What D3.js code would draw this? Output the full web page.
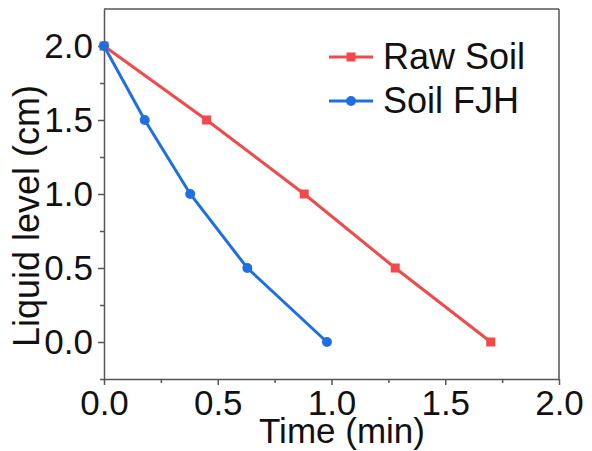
<!DOCTYPE html>
<html>
<head>
<meta charset="utf-8">
<script src="https://cdn.jsdelivr.net/npm/d3@7"></script>
<style>
  html, body { margin: 0; padding: 0; background: #fff; }
  svg { display: block; font-family: "Liberation Sans", Arial, sans-serif; }
</style>
</head>
<body>
<svg id="chart" width="592" height="451"></svg>
<script>
// ---- data ----
const seriesNames = ["Raw Soil", "Soil FJH"];
const rawSoilTime = [0, 0.451, 0.880, 1.280, 1.700];
const rawSoilLevel = [2.0, 1.5, 1.0, 0.5, 0.0];
const fjhTime = [0, 0.179, 0.379, 0.630, 0.980];
const fjhLevel = [2.0, 1.5, 1.0, 0.5, 0.0];
const xTicks = [0, 0.5, 1.0, 1.5, 2.0];
const yTicks = [0, 0.5, 1.0, 1.5, 2.0];
const xMinor = [0.25, 0.75, 1.25, 1.75];
const yMinor = [-0.25, 0.25, 0.75, 1.25, 1.75];
const xTitle = "Time (min)";
const yTitle = "Liquid level (cm)";
const colors = ["#f24a4a", "#1f6fe3"];

// ---- layout ----
const L = 104, R = 559, T = 9, B = 379;
const svg = d3.select("#chart");
const x = d3.scaleLinear().domain([0, 2.0]).range([L, R]);
const y = d3.scaleLinear().domain([-0.25, 2.25]).range([B, T]);
const axisColor = "#555";
const fs = 35;

// frame (top & right)
svg.append("line").attr("x1", L).attr("x2", R).attr("y1", T).attr("y2", T)
  .attr("stroke", axisColor).attr("stroke-width", 1.5);
svg.append("line").attr("x1", R).attr("x2", R).attr("y1", T).attr("y2", B)
  .attr("stroke", axisColor).attr("stroke-width", 1.5);

// x axis
const xAxis = d3.axisBottom(x).tickValues(xTicks).tickFormat(d3.format(".1f"))
  .tickSizeInner(6).tickSizeOuter(0).tickPadding(5);
const gx = svg.append("g").attr("transform", `translate(0,${B})`).call(xAxis);
gx.selectAll(".tick text").attr("font-size", fs).attr("fill", "#111")
  .attr("font-family", "'Liberation Sans', Arial, sans-serif");
const gxm = svg.append("g").attr("transform", `translate(0,${B})`)
  .call(d3.axisBottom(x).tickValues(xMinor).tickSize(4).tickFormat(""));
gxm.select(".domain").remove();

// y axis
const yAxis = d3.axisLeft(y).tickValues(yTicks).tickFormat(d3.format(".1f"))
  .tickSizeInner(6).tickSizeOuter(0).tickPadding(5);
const gy = svg.append("g").attr("transform", `translate(${L},0)`).call(yAxis);
gy.selectAll(".tick text").attr("font-size", fs).attr("fill", "#111")
  .attr("font-family", "'Liberation Sans', Arial, sans-serif");
const gym = svg.append("g").attr("transform", `translate(${L},0)`)
  .call(d3.axisLeft(y).tickValues(yMinor).tickSize(4).tickFormat(""));
gym.select(".domain").remove();

[gx, gy, gxm, gym].forEach(g => {
  g.selectAll(".domain").attr("stroke", axisColor).attr("stroke-width", 1.5);
  g.selectAll(".tick line").attr("stroke", axisColor).attr("stroke-width", 1.5);
});

// axis titles
svg.append("text").attr("x", 342).attr("y", 443).attr("text-anchor", "middle")
  .attr("font-size", 35).attr("fill", "#111").text(xTitle);
svg.append("text").attr("transform", "translate(39,216) rotate(-90)")
  .attr("text-anchor", "middle").attr("font-size", 36).attr("fill", "#111").text(yTitle);

// series
const series = [
  { name: seriesNames[0], xs: rawSoilTime, ys: rawSoilLevel, color: colors[0], shape: "square" },
  { name: seriesNames[1], xs: fjhTime, ys: fjhLevel, color: colors[1], shape: "circle" }
];
const line = d3.line().x(d => x(d[0])).y(d => y(d[1]));
series.forEach(s => {
  const pts = s.xs.map((v, i) => [v, s.ys[i]]);
  svg.append("path").datum(pts).attr("d", line).attr("fill", "none")
    .attr("stroke", s.color).attr("stroke-width", 3);
  if (s.shape === "square") {
    svg.selectAll(null).data(pts).enter().append("rect")
      .attr("x", d => x(d[0]) - 4.5).attr("y", d => y(d[1]) - 4.5)
      .attr("width", 9).attr("height", 9).attr("fill", s.color);
  } else {
    svg.selectAll(null).data(pts).enter().append("circle")
      .attr("cx", d => x(d[0])).attr("cy", d => y(d[1])).attr("r", 5)
      .attr("fill", s.color);
  }
});

// legend
const legY = [57, 101];
series.forEach((s, i) => {
  const g = svg.append("g");
  g.append("line").attr("x1", 329).attr("x2", 373).attr("y1", legY[i]).attr("y2", legY[i])
    .attr("stroke", s.color).attr("stroke-width", 3);
  if (s.shape === "square") {
    g.append("rect").attr("x", 351 - 4.5).attr("y", legY[i] - 4.5).attr("width", 9).attr("height", 9)
      .attr("fill", s.color);
  } else {
    g.append("circle").attr("cx", 351).attr("cy", legY[i]).attr("r", 5).attr("fill", s.color);
  }
  g.append("text").attr("x", 383).attr("y", legY[i] + 12).attr("font-size", 36)
    .attr("fill", "#111").text(s.name);
});
</script>
</body>
</html>
